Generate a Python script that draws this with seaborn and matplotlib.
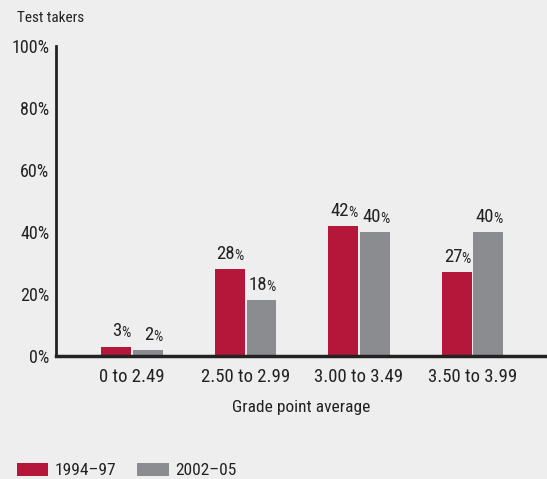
import matplotlib
matplotlib.use("Agg")
import matplotlib.pyplot as plt
import seaborn as sns
import pandas as pd

# data
gpa_bins = ["0 to 2.49", "2.50 to 2.99", "3.00 to 3.49", "3.50 to 3.99"]
period_1 = [3, 28, 42, 27]   # 1994-97
period_2 = [2, 18, 40, 40]   # 2002-05
periods = ["1994\u201397", "2002\u201305"]
y_ticks = [0, 20, 40, 60, 80, 100]

red = "#b5173a"
gray = "#8b8c8f"
bg = "#eeeeee"
ink = "#222222"

df = pd.DataFrame({
    "gpa": gpa_bins * 2,
    "pct": period_1 + period_2,
    "period": [periods[0]] * 4 + [periods[1]] * 4,
})

sns.set_theme(style="white")
plt.rcParams["font.family"] = ["Roboto Condensed", "DejaVu Sans"]
plt.rcParams["text.color"] = ink

fig = plt.figure(figsize=(5.47, 4.79), dpi=100, facecolor=bg)
ax = fig.add_axes([0.1024, 0.2568, 0.8976, 0.6472])
ax.set_facecolor(bg)

sns.barplot(ax=ax, data=df, x="gpa", y="pct", hue="period",
            palette=[red, gray], width=0.56, gap=0.06, saturation=1,
            linewidth=0, legend=True)

ax.set_xlim(-0.67, 3.656)
ax.set_ylim(0, 100)
ax.set_yticks(y_ticks)
ax.set_yticklabels([f"{t}%" for t in y_ticks], fontsize=13)
ax.tick_params(axis="y", length=0, pad=5, colors=ink)
ax.tick_params(axis="x", length=0, pad=9, labelsize=13.5, colors=ink)
ax.set_xlabel("Grade point average", fontsize=12.5, labelpad=10, color=ink)
ax.set_ylabel("")

for s in ["top", "right"]:
    ax.spines[s].set_visible(False)
ax.spines["left"].set_linewidth(2)
ax.spines["left"].set_color(ink)
ax.spines["bottom"].set_linewidth(2.5)
ax.spines["bottom"].set_color(ink)

# value labels: big number, smaller percent sign
for cont in ax.containers:
    for bar in cont:
        h = bar.get_height()
        xc = bar.get_x() + bar.get_width() / 2
        ax.annotate(f"{h:.0f}", (xc, h), xytext=(4.0, 4.5), textcoords="offset points",
                    ha="right", va="bottom", fontsize=13.5, color=ink)
        ax.annotate("%", (xc, h), xytext=(3.5, 4.5), textcoords="offset points",
                    ha="left", va="bottom", fontsize=10.5, color=ink)

fig.text(0.031, 0.962, "Test takers", fontsize=11, ha="left", va="center", color=ink)

handles, labels = ax.get_legend_handles_labels()
ax.get_legend().remove()
fig.legend(handles, labels, loc="lower left", bbox_to_anchor=(0.026, -0.004),
           borderaxespad=0, borderpad=0.15,
           ncol=2, frameon=False, fontsize=12.5, handlelength=1.8, handleheight=0.8,
           handletextpad=0.4, columnspacing=1.2)

fig.savefig("out.png", dpi=100, facecolor=bg)
